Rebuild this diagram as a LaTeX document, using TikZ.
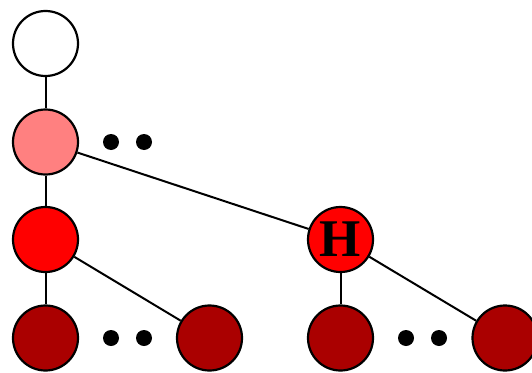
\documentclass[tikz,border=0pt]{standalone}
\usepackage{fontspec}
\setmainfont{Liberation Serif}
\begin{document}
\begin{tikzpicture}[x=1pt,y=-1pt,
  nd/.style={circle,draw=black,line width=2.2pt,minimum size=65pt,inner sep=0pt},
  dt/.style={circle,fill=black,minimum size=16pt,inner sep=0pt},
  ed/.style={line width=2pt}]
\useasboundingbox (0,0) rectangle (532,372);
\clip (0,0) rectangle (532,372);
\definecolor{pinkc}{HTML}{FF8080}
\definecolor{redc}{HTML}{FF0000}
\definecolor{darkc}{HTML}{AA0000}
\node[nd,fill=white] (a) at (45.5,43.5) {};
\node[nd,fill=pinkc] (b) at (45.5,142) {};
\node[nd,fill=redc] (c) at (45.5,239.5) {};
\node[nd,fill=redc,font=\fontsize{53}{53}\selectfont\bfseries] (h) at (340.5,239.5) {H};
\node[nd,fill=darkc] (d1) at (45.5,338) {};
\node[nd,fill=darkc] (d2) at (209.5,338) {};
\node[nd,fill=darkc] (d3) at (340.5,338) {};
\node[nd,fill=darkc] (d4) at (505,338) {};
\node[dt] (p1) at (111,142) {};
\node[dt] (p2) at (144,142) {};
\node[dt] (q1) at (111,338) {};
\node[dt] (q2) at (144,338) {};
\node[dt] (r1) at (406,338) {};
\node[dt] (r2) at (439,338) {};
\draw[ed] (a) -- (b);
\draw[ed] (b) -- (c);
\draw[ed] (b) -- (h);
\draw[ed] (c) -- (d1);
\draw[ed] (c) -- (d2);
\draw[ed] (h) -- (d3);
\draw[ed] (h) -- (d4);
\end{tikzpicture}
\end{document}
